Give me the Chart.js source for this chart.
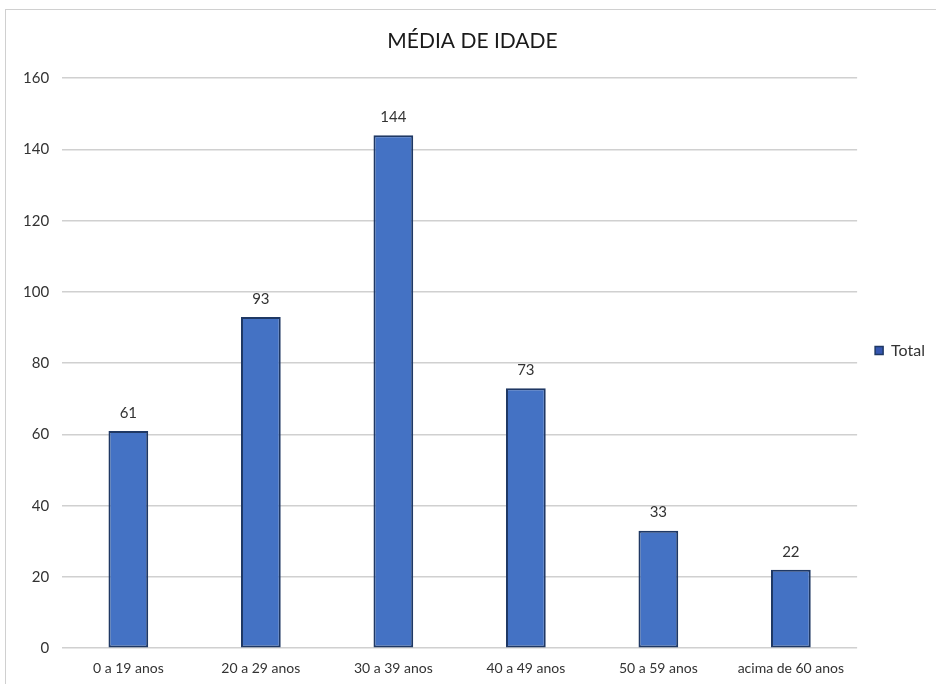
<!DOCTYPE html>
<html>
<head>
<meta charset="utf-8">
<script src="https://cdn.jsdelivr.net/npm/chart.js@4"></script>
<style>
  body { margin: 0; background: #fff; overflow: hidden; }
  #moldura {
    position: absolute; left: 5px; top: 9px; width: 940px; height: 690px;
    border: 1px solid #d0d0d0; box-sizing: border-box;
  }
  #wrap { position: absolute; left: 0; top: 0; width: 931px; height: 675px; }
</style>
</head>
<body>
<div id="moldura">
  <div id="wrap"><canvas id="barChart"></canvas></div>
</div>
<script>
let faixas = ["0 a 19 anos", "20 a 29 anos", "30 a 39 anos", "40 a 49 anos", "50 a 59 anos", "acima de 60 anos"];
let totais = [61, 93, 144, 73, 33, 22];
let titulo = "MÉDIA DE IDADE";

Chart.defaults.font.family = "Lato, 'Open Sans', sans-serif";

// rótulos de valor acima das barras
let rotulos = {
  id: "rotulos",
  afterDatasetsDraw(chart) {
    let c = chart.ctx;
    c.save();
    c.font = "15px Lato, 'Open Sans', sans-serif";
    c.fillStyle = "#333333";
    c.textAlign = "center";
    c.textBaseline = "middle";
    chart.getDatasetMeta(0).data.forEach((bar, i) => {
      c.fillText(totais[i], bar.x, bar.y - 18);
    });
    c.restore();
  },
};

let ctx = document.getElementById("barChart");

let barChart = new Chart(ctx, {
  type: "bar",
  data: {
    labels: faixas,
    datasets: [
      {
        label: "Total",
        data: totais,
        backgroundColor: "#4472C4",
        borderColor: "#1F3864",
        borderWidth: 2,
        borderSkipped: false,
        barPercentage: 0.6,
        categoryPercentage: 0.5,
      },
    ],
  },
  options: {
    responsive: true,
    maintainAspectRatio: false,
    animation: false,
    layout: { padding: { left: 4, right: 2, top: 10, bottom: 4 } },
    plugins: {
      title: {
        display: true,
        text: titulo,
        color: "#1a1a1a",
        font: { size: 21, weight: "normal" },
        padding: { top: 9, bottom: 24 },
      },
      legend: {
        position: "right",
        labels: {
          boxWidth: 8,
          boxHeight: 8,
          color: "#333333",
          font: { size: 16 },
          padding: 18,
          generateLabels: (chart) => [
            {
              text: "Total",
              fillStyle: "#3556b0",
              strokeStyle: "#1F3864",
              lineWidth: 1.5,
              fontColor: "#333333",
            },
          ],
        },
      },
      tooltip: { enabled: false },
    },
    scales: {
      x: {
        grid: { display: false },
        border: { display: false },
        ticks: { color: "#333333", font: { size: 14 }, padding: 4, maxRotation: 0 },
      },
      y: {
        min: 0,
        max: 160,
        ticks: { stepSize: 20, color: "#333333", font: { size: 15 }, padding: 13 },
        grid: { color: "#d0d0d0", lineWidth: 1.5, drawTicks: false },
        border: { display: false },
      },
    },
  },
  plugins: [rotulos],
});
</script>
</body>
</html>
